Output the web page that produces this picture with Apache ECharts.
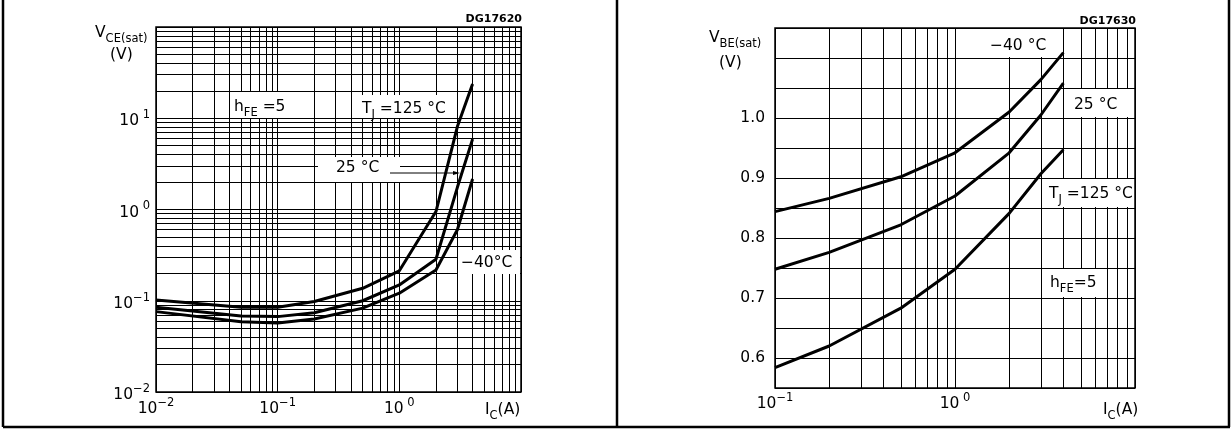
<!DOCTYPE html>
<html>
<head>
<meta charset="utf-8">
<script src="https://cdn.jsdelivr.net/npm/echarts@6/dist/echarts.min.js"></script>
<style>
html,body{margin:0;padding:0;background:#fff;}
#chart{width:1232px;height:429px;}
</style>
</head>
<body>
<div id="chart"></div>
<script>
// ---------- data ----------
// Left: VCE(sat) vs IC, hFE = 5
const IC_LEFT = [0.01, 0.05, 0.1, 0.2, 0.5, 1, 2, 3, 4];
const VCE_125 = [0.102, 0.085, 0.085, 0.098, 0.137, 0.213, 0.95, 8.1, 23.7];
const VCE_25  = [0.085, 0.068, 0.067, 0.074, 0.100, 0.149, 0.285, 1.75, 5.9];
const VCE_M40 = [0.076, 0.059, 0.057, 0.063, 0.083, 0.121, 0.217, 0.60, 2.16];

// Right: VBE(sat) vs IC, hFE = 5
const IC_RIGHT = [0.1, 0.2, 0.5, 1, 2, 3, 4];
const VBE_M40 = [0.844, 0.866, 0.902, 0.942, 1.010, 1.064, 1.109];
const VBE_25  = [0.748, 0.776, 0.822, 0.870, 0.942, 1.005, 1.058];
const VBE_125 = [0.584, 0.620, 0.683, 0.748, 0.841, 0.907, 0.947];

// tick labels
const RIGHT_Y_LABELS = ['0.6', '0.7', '0.8', '0.9', '1.0'];

// ---------- helpers ----------
const F = '"DejaVu Sans", "Liberation Sans", sans-serif';
function pair(xs, ys) { return xs.map((x, i) => [x, ys[i]]); }
function logGrid(e0, e1) {           // gridline positions 1..9 x 10^e, plus 10^e1
  const out = [];
  for (let e = e0; e < e1; e++) for (let k = 1; k <= 9; k++) out.push(+(k * Math.pow(10, e)).toPrecision(6));
  out.push(+Math.pow(10, e1).toPrecision(6));
  return out;
}
const MINUS = '\u2212';
function expLabel(v, hideExp) {
  const e = Math.round(Math.log10(v));
  if (e === hideExp) return '';
  const s = e < 0 ? MINUS + (-e) : ' ' + e;
  return '{b|10}{s|' + s + '}';
}
const RICH = {
  b: { fontSize: 15.5, fontFamily: F, color: '#000', lineHeight: 24 },
  s: { fontSize: 11.5, fontFamily: F, color: '#000', lineHeight: 11, verticalAlign: 'top' }
};
const gridLineStyle = { color: '#000', width: 1, type: 'solid', opacity: 1 };
function vLines(vals) { return vals.map(v => ({ xAxis: v })); }
function hLines(vals) { return vals.map(v => ({ yAxis: v })); }
function curve(name, data, xi, yi, extra) {
  return Object.assign({
    name, type: 'line', xAxisIndex: xi, yAxisIndex: yi, data,
    symbol: 'none', showSymbol: false, smooth: false, z: 5,
    lineStyle: { color: '#000', width: 3 }, silent: true
  }, extra || {});
}
function gridMarks(vx, hy) {
  return {
    silent: true, symbol: ['none', 'none'], animation: false,
    label: { show: false }, lineStyle: gridLineStyle, emphasis: { disabled: true },
    data: vLines(vx).concat(hLines(hy))
  };
}

const chart = echarts.init(document.getElementById('chart'), null, { renderer: 'canvas' });

const option = {
  animation: false,
  backgroundColor: '#fff',
  grid: [
    { left: 156, top: 27, width: 365, height: 365, show: true, borderColor: '#000', borderWidth: 1.5, containLabel: false },
    { left: 775, top: 28, width: 360, height: 360, show: true, borderColor: '#000', borderWidth: 1.5, containLabel: false }
  ],
  xAxis: [
    { type: 'log', logBase: 10, gridIndex: 0, min: 0.01, max: 10,
      axisLine: { show: false }, axisTick: { show: false }, splitLine: { show: false },
      axisLabel: { margin: 5, formatter: v => expLabel(v, 1), rich: RICH, showMaxLabel: true, showMinLabel: true } },
    { type: 'log', logBase: 10, gridIndex: 1, min: 0.1, max: 10,
      axisLine: { show: false }, axisTick: { show: false }, splitLine: { show: false },
      axisLabel: { margin: 4, formatter: v => expLabel(v, 1), rich: RICH, showMaxLabel: true, showMinLabel: true } }
  ],
  yAxis: [
    { type: 'log', logBase: 10, gridIndex: 0, min: 0.01, max: 100,
      axisLine: { show: false }, axisTick: { show: false }, splitLine: { show: false },
      axisLabel: { margin: 6, padding: [6, 0, 0, 0], formatter: v => expLabel(v, 2), rich: RICH } },
    { type: 'value', gridIndex: 1, min: 0.55, max: 1.15, interval: 0.05,
      axisLine: { show: false }, axisTick: { show: false },
      splitLine: { show: true, lineStyle: gridLineStyle },
      axisLabel: { margin: 10, fontSize: 15.5, fontFamily: F, color: '#000',
        formatter: v => { const t = (Math.round(v * 100) / 100).toFixed(1);
          return (Math.abs(v * 10 - Math.round(v * 10)) < 1e-6 && RIGHT_Y_LABELS.includes(t)) ? t : ''; } } }
  ],
  series: [
    Object.assign(curve('grid-left', [], 0, 0), { markLine: gridMarks(logGrid(-2, 1), logGrid(-2, 2)), z: 1 }),
    curve('VCE 125°C', pair(IC_LEFT, VCE_125), 0, 0),
    curve('VCE 25°C', pair(IC_LEFT, VCE_25), 0, 0),
    curve('VCE -40°C', pair(IC_LEFT, VCE_M40), 0, 0),
    Object.assign(curve('grid-right', [], 1, 1), { markLine: gridMarks(logGrid(-1, 1), []), z: 1 }),
    curve('VBE -40°C', pair(IC_RIGHT, VBE_M40), 1, 1),
    curve('VBE 25°C', pair(IC_RIGHT, VBE_25), 1, 1),
    curve('VBE 125°C', pair(IC_RIGHT, VBE_125), 1, 1)
  ],
  graphic: {
    elements: []
  }
};

// ---------- annotations ----------
const G = option.graphic.elements;
const TXT_RICH = {
  b: { fontSize: 15.5, fontFamily: F, fill: '#000', color: '#000', lineHeight: 24 },
  sub: { fontSize: 11.5, fontFamily: F, fill: '#000', color: '#000', lineHeight: 11, verticalAlign: 'bottom' },
  sup: { fontSize: 11.5, fontFamily: F, fill: '#000', color: '#000', lineHeight: 11, verticalAlign: 'top' }
};
function box(x, y, w, h) {
  G.push({ type: 'rect', z: 50, silent: true, shape: { x, y, width: w, height: h }, style: { fill: '#fff', stroke: null } });
}
function rtext(text, x, y, align) {
  G.push({ type: 'text', z: 60, silent: true, x, y,
    style: { text, rich: TXT_RICH, align: align || 'left', textAlign: align || 'left',
      verticalAlign: 'middle', textVerticalAlign: 'middle', fill: '#000', font: '15.5px ' + F } });
}
function line(x1, y1, x2, y2, w) {
  G.push({ type: 'line', z: 70, silent: true, shape: { x1, y1, x2, y2 }, style: { stroke: '#000', lineWidth: w } });
}

// panel frames
line(3, 0, 3, 427, 2.5);
line(3, 427, 1230, 427, 2.5);
line(617, 0, 617, 427, 2.5);
line(1229, 0, 1229, 427, 2.5);

// left panel labels
box(232, 92, 74, 26);   rtext('{b|h}{sub|FE}{b| =5}', 234, 107);
box(358, 95, 97, 23);   rtext('{b|T}{sub|J}{b| =125 °C}', 362, 109);
box(318, 157, 82, 25);  rtext('{b|25 °C}', 336, 168);
box(458, 250, 62, 24);  rtext('{b|' + MINUS + '40°C}', 461, 263);
// arrow to the 25 °C curve
G.push({ type: 'line', z: 70, silent: true, shape: { x1: 390, y1: 173, x2: 456, y2: 173 }, style: { stroke: '#000', lineWidth: 1 } });
G.push({ type: 'polygon', z: 70, silent: true, shape: { points: [[460, 173], [453, 171], [453, 175]] }, style: { fill: '#000' } });

// left axis titles
rtext('{b|V}{sub|CE(sat)}', 95, 33);
rtext('{b|(V)}', 110, 55);
rtext('{b|I}{sub|C}{b|(A)}', 485, 410);
G.push({ type: 'text', z: 60, silent: true, x: 522, y: 19,
  style: { text: 'DG17620', font: 'bold 11px ' + F, fill: '#000', align: 'right', textAlign: 'right', verticalAlign: 'middle', textVerticalAlign: 'middle' } });

// right panel labels
box(975, 29, 83, 28);   rtext('{b|' + MINUS + '40 °C}', 990, 46);
box(1064, 89, 70, 28);  rtext('{b|25 °C}', 1074, 105);
box(1045, 179, 89, 28); rtext('{b|T}{sub|J}{b| =125 °C}', 1049, 194);
box(1045, 269, 59, 28); rtext('{b|h}{sub|FE}{b|=5}', 1050, 283);

rtext('{b|V}{sub|BE(sat)}', 709, 38);
rtext('{b|(V)}', 719, 63);
rtext('{b|I}{sub|C}{b|(A)}', 1103, 410);
G.push({ type: 'text', z: 60, silent: true, x: 1136, y: 21,
  style: { text: 'DG17630', font: 'bold 11px ' + F, fill: '#000', align: 'right', textAlign: 'right', verticalAlign: 'middle', textVerticalAlign: 'middle' } });

chart.setOption(option);
</script>
</body>
</html>
